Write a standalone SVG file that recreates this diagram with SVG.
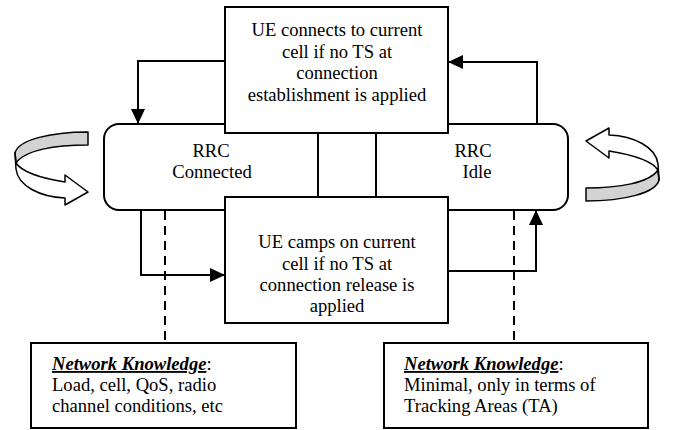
<svg xmlns="http://www.w3.org/2000/svg" width="676" height="430" viewBox="0 0 676 430">
<style>
.box{fill:#fff;stroke:#000;stroke-width:2}
.ln{fill:none;stroke:#000;stroke-width:2}
.dash{fill:none;stroke:#000;stroke-width:2;stroke-dasharray:9 6}
text{font-family:"Liberation Serif","Times New Roman",serif;font-size:18.6px;fill:#000}
.c{text-anchor:middle}
.nk{font-weight:bold;font-style:italic;text-decoration:underline}
.rib{stroke:#000;stroke-width:1.5;stroke-linejoin:round}
</style>
<defs>
<marker id="ah" markerUnits="userSpaceOnUse" markerWidth="16" markerHeight="14" refX="15" refY="7" orient="auto">
<path d="M0,0 L15,7 L0,14 Z" fill="#000"/>
</marker>
<g id="curl">
<path class="rib" fill="#d3d3d3" d="M88,132 C50,132 18,140 15,153 L16,163 C25,150 55,145 88,145 Z"/>
<path class="rib" fill="#fff" d="M15,153 L16,169 C18,186 40,197 65,198 L65,205 L88,192 L65,175 L65,182 C40,178 22,172 16,163 Z"/>
</g>
</defs>

<g id="rrc-state">
<rect class="box" x="104" y="124" width="464" height="86" rx="15" ry="15"/>
</g>

<g id="ue-connects">
<rect class="box" x="225" y="7" width="223" height="126"/>
<text class="c" x="337" y="36">UE connects to current</text>
<text class="c" x="337" y="57.5">cell if no TS at</text>
<text class="c" x="337" y="79">connection</text>
<text class="c" x="337" y="100.5">establishment is applied</text>
</g>

<g id="ue-camps">
<rect class="box" x="225" y="197" width="223" height="126"/>
<text class="c" x="337" y="248">UE camps on current</text>
<text class="c" x="337" y="269.5">cell if no TS at</text>
<text class="c" x="337" y="291">connection release is</text>
<text class="c" x="337" y="312">applied</text>
</g>

<g id="dividers">
<line class="ln" x1="318" y1="133" x2="318" y2="197"/>
<line class="ln" x1="376" y1="133" x2="376" y2="197"/>
</g>

<g id="rrc-connected">
<text class="c" x="211" y="157">RRC</text>
<text class="c" x="212" y="178">Connected</text>
</g>

<g id="rrc-idle">
<text class="c" x="473" y="157">RRC</text>
<text class="c" x="477" y="178">Idle</text>
</g>

<g id="nk-connected">
<rect class="box" x="31" y="343" width="265" height="85"/>
<text x="52" y="370"><tspan class="nk">Network Knowledge</tspan>:</text>
<text x="52" y="391">Load, cell, QoS, radio</text>
<text x="52" y="412">channel conditions, etc</text>
</g>

<g id="nk-idle">
<rect class="box" x="384" y="343" width="264" height="85"/>
<text x="404" y="370"><tspan class="nk">Network Knowledge</tspan>:</text>
<text x="404" y="391">Minimal, only in terms of</text>
<text x="404" y="412">Tracking Areas (TA)</text>
</g>

<g id="loop-left">
<use href="#curl"/>
</g>
<g id="loop-right">
<use href="#curl" transform="rotate(180 337 166.5)"/>
</g>

<g id="connectors">
<path class="ln" d="M225,61 H138 V124" marker-end="url(#ah)"/>
<path class="ln" d="M537,124 V62 H448" marker-end="url(#ah)"/>
<path class="ln" d="M141,210 V275 H225" marker-end="url(#ah)"/>
<path class="ln" d="M448,271 H536 V210" marker-end="url(#ah)"/>
<line class="dash" x1="165" y1="211" x2="165" y2="343"/>
<line class="dash" x1="514" y1="211" x2="514" y2="343"/>
</g>
</svg>
